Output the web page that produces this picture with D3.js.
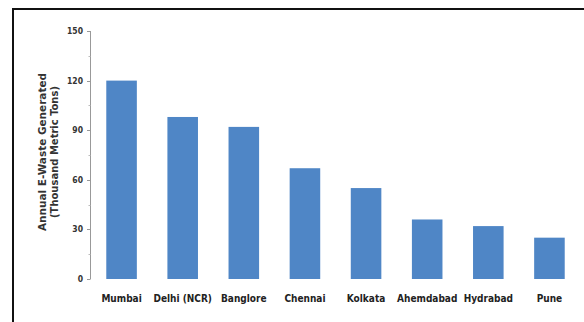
<!DOCTYPE html>
<html><head><meta charset="utf-8">
<script src="https://cdn.jsdelivr.net/npm/d3@7"></script>
<style>
body{margin:0;background:#fff;}
svg text{font-family:"Liberation Sans Narrow","DejaVu Sans Condensed",sans-serif;font-weight:bold;}
</style></head>
<body><svg id="c" width="584" height="322"></svg>
<script>
const cities = ["Mumbai","Delhi (NCR)","Banglore","Chennai","Kolkata","Ahemdabad","Hydrabad","Pune"];
const values = [120, 98, 92, 67, 55, 36, 32, 25];
const yTicks = [0, 30, 60, 90, 120, 150];
const yMinorTicks = [15, 45, 75, 105, 135];
const yTitle = ["Annual E-Waste Generated", "(Thousand Metric Tons)"];

const svg = d3.select("#c");
// outer frame
svg.append("path").attr("d","M13,330 V9 H600").attr("fill","none").attr("stroke","#111").attr("stroke-width",2);

const x = d3.scaleBand().domain(cities).range([91, 580]).paddingInner(0.5).paddingOuter(0.25);
const y = d3.scaleLinear().domain([0,150]).range([279, 31]);

// axis line
svg.append("line").attr("x1",90.5).attr("x2",90.5).attr("y1",y(150)).attr("y2",y(0)).attr("stroke","#999").attr("stroke-width",1);
const tickG = svg.append("g");
tickG.selectAll("line.maj").data(yTicks).join("line").attr("class","maj")
  .attr("x1",87).attr("x2",90.5).attr("y1",d=>Math.round(y(d))+0.5).attr("y2",d=>Math.round(y(d))+0.5).attr("stroke","#999");
tickG.selectAll("line.min").data(yMinorTicks).join("line").attr("class","min")
  .attr("x1",88.5).attr("x2",90.5).attr("y1",d=>Math.round(y(d))+0.5).attr("y2",d=>Math.round(y(d))+0.5).attr("stroke","#bbb");
tickG.selectAll("text").data(yTicks).join("text")
  .attr("x",83).attr("y",d=>y(d)).attr("dy","0.35em").attr("text-anchor","end")
  .attr("font-size",8.5).attr("fill","#333").text(d=>d);

// bars
svg.selectAll("rect.bar").data(values).join("rect").attr("class","bar")
  .attr("x",(d,i)=>x(cities[i])).attr("width",x.bandwidth())
  .attr("y",d=>y(d)).attr("height",d=>y(0)-y(d)).attr("fill","#4f86c6");

// x labels
svg.selectAll("text.xl").data(cities).join("text").attr("class","xl")
  .attr("x",d=>x(d)+x.bandwidth()/2).attr("y",302).attr("text-anchor","middle")
  .attr("font-size",10).attr("fill","#222").text(d=>d);

// y title
const tg = svg.append("g").attr("transform","translate(0,152) rotate(-90)");
tg.selectAll("text").data(yTitle).join("text")
  .attr("x",0).attr("y",(d,i)=>i===0?46:58).attr("text-anchor","middle")
  .attr("font-size",11).attr("fill","#333")
  .attr("textLength",(d,i)=>i===0?158:132).attr("lengthAdjust","spacingAndGlyphs")
  .text(d=>d);
</script></body></html>
